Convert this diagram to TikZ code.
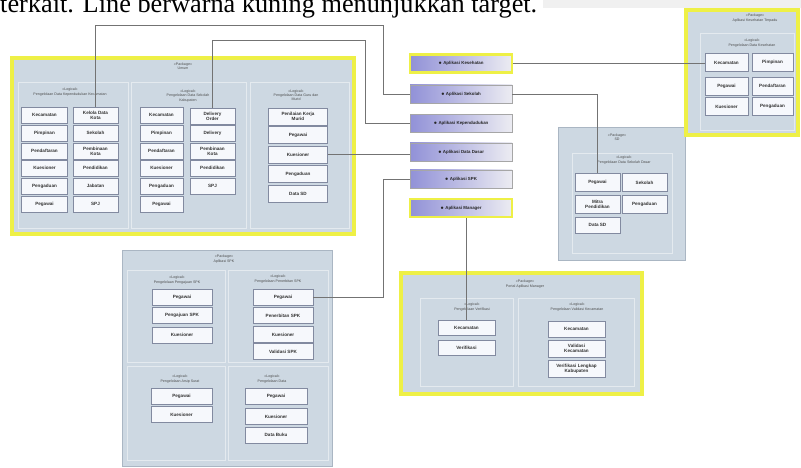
\documentclass[tikz,border=0pt]{standalone}
\usepackage{fontspec}
\setmainfont{Liberation Serif}
\setsansfont{Liberation Sans}
\usetikzlibrary{positioning}
\definecolor{pkgfill}{RGB}{205,216,226}
\definecolor{pkgline}{RGB}{170,182,195}
\definecolor{targetyellow}{RGB}{238,240,70}
\definecolor{itemfill}{RGB}{246,248,252}
\definecolor{itemline}{RGB}{130,138,160}
\definecolor{menublue}{RGB}{145,145,215}
\definecolor{menuwhite}{RGB}{236,236,242}
\definecolor{bandgray}{RGB}{240,240,240}

\begin{document}
\begin{tikzpicture}[
  x=1pt, y=-1pt,
  font=\sffamily,
  pkg/.style={draw=pkgline, fill=pkgfill, line width=0.5pt},
  target/.style={draw=targetyellow, line width=4pt},
  sub/.style={draw=white!45!pkgfill, line width=0.6pt},
  title/.style={align=center, inner sep=0pt, text=black!70, font=\sffamily\fontsize{3.6}{4.2}\selectfont},
  item/.style={draw=itemline, fill=itemfill, line width=0.5pt, align=center, inner sep=1pt, minimum width=46pt, minimum height=16pt, text=black!80, font=\sffamily\bfseries\fontsize{4.6}{5.2}\selectfont},
  wide/.style={item, minimum width=60pt},
  menu/.style={draw=black!35, left color=menublue, right color=menuwhite, minimum width=102pt, minimum height=18pt, inner sep=0pt, text=black!85, font=\sffamily\bfseries\fontsize{4.4}{5}\selectfont},
  link/.style={draw=black!55, line width=0.6pt}
]
\fill[white] (0,0) rectangle (801,468);
\useasboundingbox (0,0) rectangle (801,468);
\fill[bandgray] (543,0) rectangle (801,8);

\node[anchor=base west, inner sep=0pt, font=\rmfamily\fontsize{26.3}{30}\selectfont] (caption) at (0,13) {terkait. Line berwarna kuning menunjukkan target.};

% packages
\draw[pkg, target] (12,58) rectangle (354,234);
\draw[pkg] (558,127) rectangle (685,260);
\draw[pkg, target] (686,10) rectangle (798,135);
\draw[pkg] (122,250) rectangle (332,466);
\draw[pkg, target] (401,273) rectangle (642,394);

\draw[sub] (18,82) rectangle (128,228);
\draw[sub] (131,82) rectangle (246,228);
\draw[sub] (250,82) rectangle (349,228);
\draw[sub] (700,33) rectangle (794,130);
\draw[sub] (572,153) rectangle (672,253);
\draw[sub] (127,270) rectangle (225,362);
\draw[sub] (228,270) rectangle (328,362);
\draw[sub] (127,366) rectangle (225,460);
\draw[sub] (228,366) rectangle (328,460);
\draw[sub] (420,298) rectangle (513,386);
\draw[sub] (518,298) rectangle (634,386);

% package titles
\node[title] (umumT) at (183,66) {«Package»\\Umum};
\node[title] (umT)   at (70,92)  {«Logical»\\Pengelolaan Data Kependudukan Kecamatan};
\node[title] (skT)   at (188,96) {«Logical»\\Pengelolaan Data Sekolah\\Kabupaten};
\node[title] (gmT)   at (296,95) {«Logical»\\Pengelolaan Data Guru dan\\Murid};
\node[title] (kesT)  at (755,18) {«Package»\\Aplikasi Kesehatan Terpadu};
\node[title] (kesS)  at (752,43) {«Logical»\\Pengelolaan Data Kesehatan};
\node[title] (sdT)   at (617,137) {«Package»\\SD};
\node[title] (sdS)   at (624,160) {«Logical»\\Pengelolaan Data Sekolah Dasar};
\node[title] (spkT)  at (224,259) {«Package»\\Aplikasi SPK};
\node[title] (spkAT) at (177,280) {«Logical»\\Pengelolaan Pengajuan SPK};
\node[title] (spkBT) at (278,279) {«Logical»\\Pengelolaan Penerbitan SPK};
\node[title] (spkCT) at (180,379) {«Logical»\\Pengelolaan Arsip Surat};
\node[title] (spkDT) at (272,379) {«Logical»\\Pengelolaan Data};
\node[title] (mgrT)  at (525,284) {«Package»\\Portal Aplikasi Manager};
\node[title] (mgrAT) at (472,307) {«Logical»\\Pengelolaan Verifikasi};
\node[title] (mgrBT) at (577,307) {«Logical»\\Pengelolaan Validasi Kecamatan};

% Umum
\node[item] (umA1) at (44.5,115) {Kecamatan};
\node[item] (umA2) at (44.5,133) {Pimpinan};
\node[item] (umA3) at (44.5,151) {Pendaftaran};
\node[item] (umA4) at (44.5,168) {Kuesioner};
\node[item] (umA5) at (44.5,186) {Pengaduan};
\node[item] (umA6) at (44.5,204) {Pegawai};
\node[item, minimum width=45pt] (umB1) at (95.5,115) {Kelola Data\\Kota};
\node[item, minimum width=45pt] (umB2) at (95.5,133) {Sekolah};
\node[item, minimum width=45pt] (umB3) at (95.5,151) {Pembinaan\\Kota};
\node[item, minimum width=45pt] (umB4) at (95.5,168) {Pendidikan};
\node[item, minimum width=45pt] (umB5) at (95.5,186) {Jabatan};
\node[item, minimum width=45pt] (umB6) at (95.5,204) {SPJ};

\node[item, minimum width=43pt] (skA1) at (161.5,115) {Kecamatan};
\node[item, minimum width=43pt] (skA2) at (161.5,133) {Pimpinan};
\node[item, minimum width=43pt] (skA3) at (161.5,151) {Pendaftaran};
\node[item, minimum width=43pt] (skA4) at (161.5,168) {Kuesioner};
\node[item, minimum width=43pt] (skA5) at (161.5,186) {Pengaduan};
\node[item, minimum width=43pt] (skA6) at (161.5,204) {Pegawai};
\node[item, minimum width=45pt] (skB1) at (212.5,116) {Delivery\\Order};
\node[item, minimum width=45pt] (skB2) at (212.5,133) {Delivery};
\node[item, minimum width=45pt] (skB3) at (212.5,151) {Pembinaan\\Kota};
\node[item, minimum width=45pt] (skB4) at (212.5,168) {Pendidikan};
\node[item, minimum width=45pt] (skB5) at (212.5,186) {SPJ};

\node[item, minimum width=59pt, minimum height=17pt] (gmA1) at (298,116.5) {Penilaian Kerja\\Murid};
\node[item, minimum width=59pt, minimum height=17pt] (gmA2) at (298,135) {Pegawai};
\node[item, minimum width=59pt, minimum height=17pt] (gmA3) at (298,154.5) {Kuesioner};
\node[item, minimum width=59pt, minimum height=17pt] (gmA4) at (298,174) {Pengaduan};
\node[item, minimum width=59pt, minimum height=17pt] (gmA5) at (298,193.5) {Data SD};

% Kesehatan
\node[item, minimum width=43pt, minimum height=18pt] (kesA1) at (726.5,62.5) {Kecamatan};
\node[item, minimum width=43pt, minimum height=18pt] (kesA2) at (726.5,86) {Pegawai};
\node[item, minimum width=43pt, minimum height=18pt] (kesA3) at (726.5,106.5) {Kuesioner};
\node[item, minimum width=41pt, minimum height=18pt] (kesB1) at (772.5,62.5) {Pimpinan};
\node[item, minimum width=41pt, minimum height=18pt] (kesB2) at (772.5,86) {Pendaftaran};
\node[item, minimum width=41pt, minimum height=18pt] (kesB3) at (772.5,106.5) {Pengaduan};

% SD
\node[item, minimum width=45pt, minimum height=18pt] (sdA1) at (597.5,182.5) {Pegawai};
\node[item, minimum width=45pt, minimum height=18pt] (sdA2) at (597.5,204) {Mitra\\Pendidikan};
\node[item, minimum width=45pt, minimum height=16pt] (sdA3) at (597.5,225) {Data SD};
\node[item, minimum width=45pt, minimum height=18pt] (sdB1) at (644.5,182.5) {Sekolah};
\node[item, minimum width=45pt, minimum height=18pt] (sdB2) at (644.5,204) {Pengaduan};

% SPK
\node[wide] (spkA1) at (182,297.5) {Pegawai};
\node[wide] (spkA2) at (182,315.5) {Pengajuan SPK};
\node[wide] (spkA3) at (182,335) {Kuesioner};
\node[wide] (spkB1) at (283,297.5) {Pegawai};
\node[wide] (spkB2) at (283,315.5) {Penerbitan SPK};
\node[wide] (spkB3) at (283,334.5) {Kuesioner};
\node[wide] (spkB4) at (283,351.5) {Validasi SPK};
\node[wide, minimum width=61pt] (spkC1) at (181.5,396.5) {Pegawai};
\node[wide, minimum width=61pt] (spkC2) at (181.5,414.5) {Kuesioner};
\node[wide, minimum width=62pt] (spkD1) at (276,396.5) {Pegawai};
\node[wide, minimum width=62pt] (spkD2) at (276,416.5) {Kuesioner};
\node[wide, minimum width=62pt] (spkD3) at (276,435) {Data Buku};

% Manager
\node[item, minimum width=57pt, minimum height=15pt] (mgrA1) at (466.5,328) {Kecamatan};
\node[item, minimum width=57pt, minimum height=15pt] (mgrA2) at (466.5,348) {Verifikasi};
\node[item, minimum width=57pt, minimum height=16pt] (mgrB1) at (576.5,329) {Kecamatan};
\node[item, minimum width=57pt, minimum height=17pt] (mgrB2) at (576.5,348.5) {Validasi\\Kecamatan};
\node[item, minimum width=57pt, minimum height=17pt] (mgrB3) at (576.5,368.5) {Verifikasi Lengkap\\Kabupaten};

% menu
\node[menu, draw=targetyellow, line width=2.5pt] (mKes) at (461,63.5) {$\bullet$ Aplikasi Kesehatan};
\node[menu] (mSek)   at (461,94)  {$\bullet$ Aplikasi Sekolah};
\node[menu] (mUmum)  at (461,123.5) {$\bullet$ Aplikasi Kependudukan};
\node[menu] (mDasar) at (461,152) {$\bullet$ Aplikasi Data Dasar};
\node[menu] (mSpk)   at (461,179) {$\bullet$ Aplikasi SPK};
\node[menu, draw=targetyellow, line width=2.5pt] (mMgr) at (461,208) {$\bullet$ Aplikasi Manager};

% links
\coordinate (turnA) at (383,25);
\coordinate (turnB) at (365,40);
\coordinate (turnE) at (383,297.5);
\draw[link] (umB1.north) |- (turnA) |- (mSek.west);
\draw[link] (skB1.north) |- (turnB) |- (mUmum.west);
\draw[link] (gmA3.east) -- (gmA3.east -| mDasar.west);
\draw[link] (mKes.east) -- (mKes.east -| kesA1.west);
\draw[link] (mSek.east) -| (sdA1.north);
\draw[link] (mSpk.west) -| (turnE) -- (spkB1.east);
\draw[link] (mgrA1.north |- mMgr.south) -- (mgrA1.north);

\end{tikzpicture}
\end{document}
